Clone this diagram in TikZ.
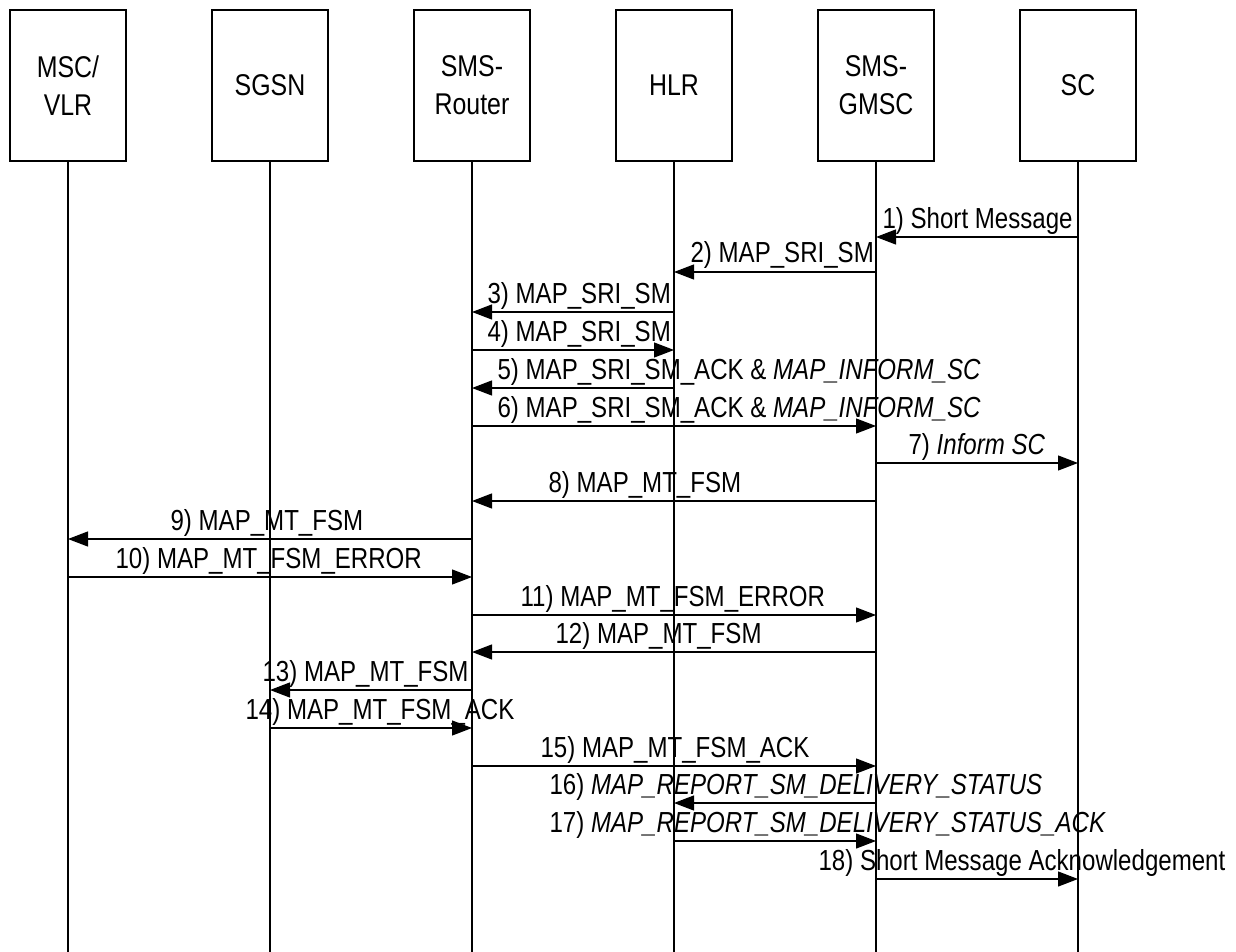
\documentclass[tikz,border=0pt]{standalone}
\usepackage{fontspec}
\setmainfont{Liberation Sans}[FakeStretch=0.83]
\usetikzlibrary{arrows.meta,positioning}

\begin{document}
\begin{tikzpicture}[x=0.5pt,y=-0.5pt,line width=0.6pt,
    entity/.style={draw,minimum width=58pt,minimum height=75.5pt,align=center,inner sep=0,font=\fontsize{15}{19}\selectfont},
    msg/.style={-{Triangle[length=10pt,width=7.5pt]}},
    lbl/.style={anchor=base west,inner sep=0,font=\fontsize{14.5}{17}\selectfont}]
  \useasboundingbox (0,0) rectangle (1236,952);
  % the network entities
  \node[entity] (msc) at (68,85.5) {MSC/\\VLR};
  \node[entity] (sgsn) at (270,85.5) {SGSN};
  \node[entity] (router) at (472,85.5) {SMS-\\Router};
  \node[entity] (hlr) at (674,85.5) {HLR};
  \node[entity] (gmsc) at (876,85.5) {SMS-\\GMSC};
  \node[entity] (sc) at (1078,85.5) {SC};
  % lifelines
  \foreach \e in {msc,sgsn,router,hlr,gmsc,sc}
    \draw (\e.south) -- (\e.south |- 0,952);
  % the messages
  \draw[msg] (sc |- 0,237) -- (gmsc |- 0,237);
  \node[lbl] (m1) at (882,228) {1) Short Message};
  \draw[msg] (gmsc |- 0,272) -- (hlr |- 0,272);
  \node[lbl] (m2) at (690,263) {2) MAP\_SRI\_SM};
  \draw[msg] (hlr |- 0,312) -- (router |- 0,312);
  \node[lbl] (m3) at (487,303) {3) MAP\_SRI\_SM};
  \draw[msg] (router |- 0,350) -- (hlr |- 0,350);
  \node[lbl] (m4) at (487,341) {4) MAP\_SRI\_SM};
  \draw[msg] (hlr |- 0,388) -- (router |- 0,388);
  \node[lbl] (m5) at (497,379) {5) MAP\_SRI\_SM\_ACK \& \textit{MAP\_INFORM\_SC}};
  \draw[msg] (router |- 0,426) -- (gmsc |- 0,426);
  \node[lbl] (m6) at (497,417) {6) MAP\_SRI\_SM\_ACK \& \textit{MAP\_INFORM\_SC}};
  \draw[msg] (gmsc |- 0,463) -- (sc |- 0,463);
  \node[lbl] (m7) at (908,454) {7) \textit{Inform SC}};
  \draw[msg] (gmsc |- 0,501) -- (router |- 0,501);
  \node[lbl] (m8) at (548,492) {8) MAP\_MT\_FSM};
  \draw[msg] (router |- 0,539) -- (msc |- 0,539);
  \node[lbl] (m9) at (170,530) {9) MAP\_MT\_FSM};
  \draw[msg] (msc |- 0,577) -- (router |- 0,577);
  \node[lbl] (m10) at (115,568) {10) MAP\_MT\_FSM\_ERROR};
  \draw[msg] (router |- 0,615) -- (gmsc |- 0,615);
  \node[lbl] (m11) at (520,606) {11) MAP\_MT\_FSM\_ERROR};
  \draw[msg] (gmsc |- 0,652) -- (router |- 0,652);
  \node[lbl] (m12) at (555,643) {12) MAP\_MT\_FSM};
  \draw[msg] (router |- 0,690) -- (sgsn |- 0,690);
  \node[lbl] (m13) at (262,681) {13) MAP\_MT\_FSM};
  \draw[msg] (sgsn |- 0,728) -- (router |- 0,728);
  \node[lbl] (m14) at (245,719) {14) MAP\_MT\_FSM\_ACK};
  \draw[msg] (router |- 0,766) -- (gmsc |- 0,766);
  \node[lbl] (m15) at (540,757) {15) MAP\_MT\_FSM\_ACK};
  \draw[msg] (gmsc |- 0,803) -- (hlr |- 0,803);
  \node[lbl] (m16) at (549,794) {16) \textit{MAP\_REPORT\_SM\_DELIVERY\_STATUS}};
  \draw[msg] (hlr |- 0,841) -- (gmsc |- 0,841);
  \node[lbl] (m17) at (549,832) {17) \textit{MAP\_REPORT\_SM\_DELIVERY\_STATUS\_ACK}};
  \draw[msg] (gmsc |- 0,879) -- (sc |- 0,879);
  \node[lbl] (m18) at (818,870) {18) Short Message Acknowledgement};
\end{tikzpicture}
\end{document}
